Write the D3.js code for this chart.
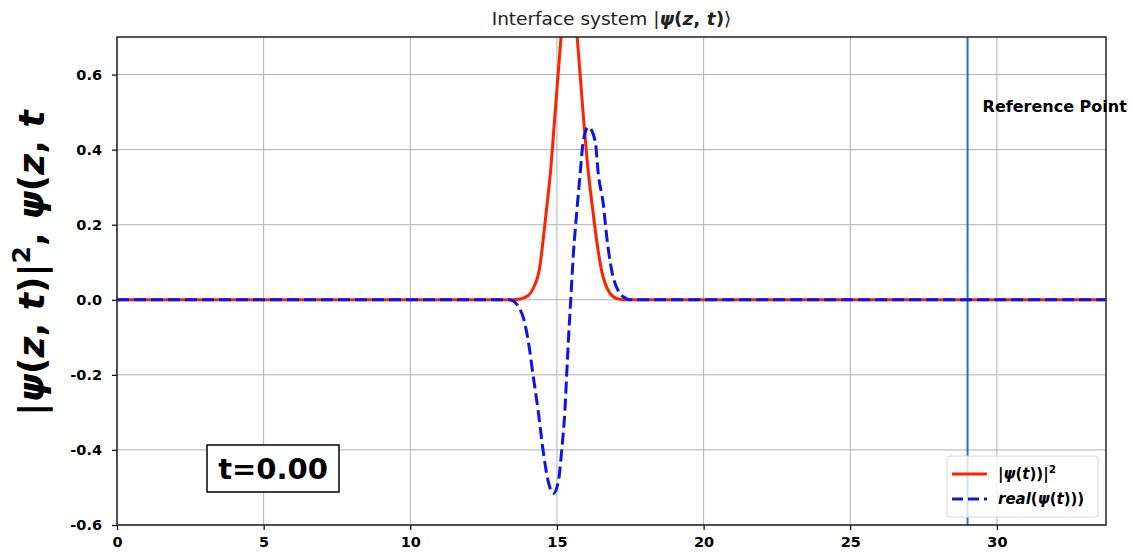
<!DOCTYPE html>
<html>
<head>
<meta charset="utf-8">
<script src="https://cdn.jsdelivr.net/npm/d3@7"></script>
<style>
  body { margin: 0; background: #fff; }
  text { font-family: "DejaVu Sans", sans-serif; }
</style>
</head>
<body>
<script>
// values
var zSq   = [0, 13.5, 13.74, 14.0, 14.19, 14.42, 14.53, 14.65, 14.78, 14.93, 15.14, 15.28, 15.42, 15.56, 15.69, 15.9, 16.07, 16.22, 16.35, 16.53, 16.81, 17.05, 17.3, 33.7];
var psiSq = [0, 0, 0.002, 0.01, 0.03, 0.09, 0.16, 0.245, 0.34, 0.49, 0.70, 0.82, 0.86, 0.82, 0.70, 0.49, 0.34, 0.24, 0.16, 0.075, 0.017, 0.003, 0, 0];

var zRe   = [0, 13.35, 13.51, 13.7, 13.85, 14.02, 14.19, 14.36, 14.53, 14.70, 14.88, 15.05, 15.16, 15.27, 15.33, 15.39, 15.47, 15.56, 15.67, 15.79, 15.90, 16.07, 16.30, 16.41, 16.58, 16.70, 16.87, 17.09, 17.3, 17.5, 33.7];
var psiRe = [0, 0, -0.003, -0.02, -0.047, -0.109, -0.203, -0.296, -0.403, -0.483, -0.516, -0.483, -0.403, -0.296, -0.203, -0.109, 0, 0.122, 0.229, 0.335, 0.424, 0.46, 0.424, 0.335, 0.255, 0.166, 0.077, 0.024, 0.006, 0, 0];

var xTicks = [0, 5, 10, 15, 20, 25, 30];
var yTicks = [-0.6, -0.4, -0.2, 0.0, 0.2, 0.4, 0.6];
var refZ = 29;
var timeLabel = "t=0.00";

var W = 1133, H = 557;
var m = { left: 117, right: 27, top: 37, bottom: 32 };

var svg = d3.select("body").append("svg")
    .attr("width", W).attr("height", H);

var x = d3.scaleLinear().domain([0, 33.72]).range([m.left, W - m.right]);
var y = d3.scaleLinear().domain([-0.6, 0.7]).range([H - m.bottom, m.top]);

svg.append("clipPath").attr("id", "clip")
  .append("rect")
    .attr("x", x(0)).attr("y", y(0.7))
    .attr("width", x(33.72) - x(0)).attr("height", y(-0.6) - y(0.7));

// grid
var grid = svg.append("g");
grid.selectAll(".gx").data(xTicks).enter().append("line")
    .attr("x1", d => x(d)).attr("x2", d => x(d))
    .attr("y1", y(0.7)).attr("y2", y(-0.6))
    .attr("stroke", "#b0b0b0").attr("stroke-width", 1);
grid.selectAll(".gy").data(yTicks).enter().append("line")
    .attr("x1", x(0)).attr("x2", x(33.72))
    .attr("y1", d => y(d)).attr("y2", d => y(d))
    .attr("stroke", "#b0b0b0").attr("stroke-width", 1);

var plot = svg.append("g").attr("clip-path", "url(#clip)");

// reference line
plot.append("line")
    .attr("x1", x(refZ)).attr("x2", x(refZ))
    .attr("y1", y(0.7)).attr("y2", y(-0.6))
    .attr("stroke", "#1f77b4").attr("stroke-width", 2);

var smooth = d3.line().curve(d3.curveMonotoneX);

plot.append("path")
    .attr("d", smooth(zSq.map((z, i) => [x(z), y(psiSq[i])])))
    .attr("fill", "none").attr("stroke", "#ff2200").attr("stroke-width", 3);

plot.append("path")
    .attr("d", smooth(zRe.map((z, i) => [x(z), y(psiRe[i])])))
    .attr("fill", "none").attr("stroke", "#0a14f0").attr("stroke-width", 3)
    .attr("stroke-dasharray", "12,5").attr("stroke-linejoin", "round");

// axes
var xAxis = svg.append("g")
    .attr("transform", "translate(0," + y(-0.6) + ")")
    .call(d3.axisBottom(x).tickValues(xTicks).tickSize(5).tickPadding(7).tickFormat(d3.format("d")));
var yAxis = svg.append("g")
    .attr("transform", "translate(" + x(0) + ",0)")
    .call(d3.axisLeft(y).tickValues(yTicks).tickSize(5).tickPadding(10)
      .tickFormat(d => d3.format(".1f")(d).replace("−", "-")));
[xAxis, yAxis].forEach(function (a) {
  a.select(".domain").remove();
  a.selectAll("text").attr("font-family", "DejaVu Sans").attr("font-weight", "bold")
    .attr("font-size", 14.5).attr("fill", "#000");
  a.selectAll("line").attr("stroke", "#000").attr("stroke-width", 1.2);
});

// frame
svg.append("rect")
    .attr("x", x(0)).attr("y", y(0.7))
    .attr("width", x(33.72) - x(0)).attr("height", y(-0.6) - y(0.7))
    .attr("fill", "none").attr("stroke", "#222").attr("stroke-width", 1.5);

// title
var title = svg.append("text")
    .attr("x", (x(0) + x(33.72)) / 2).attr("y", 25)
    .attr("text-anchor", "middle").attr("font-size", 18.5).attr("fill", "#222");
title.append("tspan").text("Interface system |");
title.append("tspan").attr("font-weight", "bold").attr("font-style", "italic").text("ψ");
title.append("tspan").attr("font-weight", "bold").text("(");
title.append("tspan").attr("font-weight", "bold").attr("font-style", "italic").text("z");
title.append("tspan").attr("font-weight", "bold").text(", ");
title.append("tspan").attr("font-weight", "bold").attr("font-style", "italic").text("t");
title.append("tspan").attr("font-weight", "bold").text(")");
title.append("tspan").text("⟩");

// y label
var yl = svg.append("text")
    .attr("transform", "translate(44," + 263 + ") rotate(-90)")
    .attr("text-anchor", "middle").attr("font-size", 36).attr("font-weight", "bold").attr("fill", "#000");
yl.append("tspan").text("|");
yl.append("tspan").attr("font-style", "italic").text("ψ");
yl.append("tspan").text("(");
yl.append("tspan").attr("font-style", "italic").text("z");
yl.append("tspan").text(", ");
yl.append("tspan").attr("font-style", "italic").text("t");
yl.append("tspan").text(")|");
yl.append("tspan").attr("font-size", 25).attr("dy", -14).text("2");
yl.append("tspan").attr("dy", 14).text(", ");
yl.append("tspan").attr("font-style", "italic").text("ψ");
yl.append("tspan").text("(");
yl.append("tspan").attr("font-style", "italic").text("z");
yl.append("tspan").text(", ");
yl.append("tspan").attr("font-style", "italic").text("t");

// reference point label
svg.append("text")
    .attr("x", x(refZ) + 15).attr("y", 112)
    .attr("font-size", 16).attr("font-weight", "bold").attr("fill", "#000")
    .text("Reference Point");

// time box
svg.append("rect")
    .attr("x", 207).attr("y", 445).attr("width", 132).attr("height", 47)
    .attr("fill", "#fff").attr("stroke", "#000").attr("stroke-width", 1.5);
svg.append("text")
    .attr("x", 273).attr("y", 479).attr("text-anchor", "middle")
    .attr("font-size", 29).attr("font-weight", "bold").attr("fill", "#000")
    .text(timeLabel);

// legend
var lg = svg.append("g").attr("transform", "translate(947,456)");
lg.append("rect").attr("width", 151).attr("height", 61).attr("rx", 3)
    .attr("fill", "#fff").attr("fill-opacity", 0.8)
    .attr("stroke", "#d6d6d6").attr("stroke-width", 1);
lg.append("line").attr("x1", 5).attr("x2", 40).attr("y1", 18).attr("y2", 18)
    .attr("stroke", "#ff2200").attr("stroke-width", 3);
lg.append("line").attr("x1", 5).attr("x2", 40).attr("y1", 43).attr("y2", 43)
    .attr("stroke", "#0a14f0").attr("stroke-width", 3).attr("stroke-dasharray", "11,5");
var l1 = lg.append("text").attr("x", 51).attr("y", 23).attr("font-size", 15).attr("font-weight", "bold");
l1.append("tspan").text("|");
l1.append("tspan").attr("font-style", "italic").text("ψ");
l1.append("tspan").text("(");
l1.append("tspan").attr("font-style", "italic").text("t");
l1.append("tspan").text("))|");
l1.append("tspan").attr("font-size", 10.5).attr("dy", -6).text("2");
var l2 = lg.append("text").attr("x", 51).attr("y", 48).attr("font-size", 15).attr("font-weight", "bold").attr("font-style", "italic");
l2.append("tspan").text("real");
l2.append("tspan").attr("font-style", "normal").text("(");
l2.append("tspan").text("ψ");
l2.append("tspan").attr("font-style", "normal").text("(");
l2.append("tspan").text("t");
l2.append("tspan").attr("font-style", "normal").text(")))");
</script>
</body>
</html>
